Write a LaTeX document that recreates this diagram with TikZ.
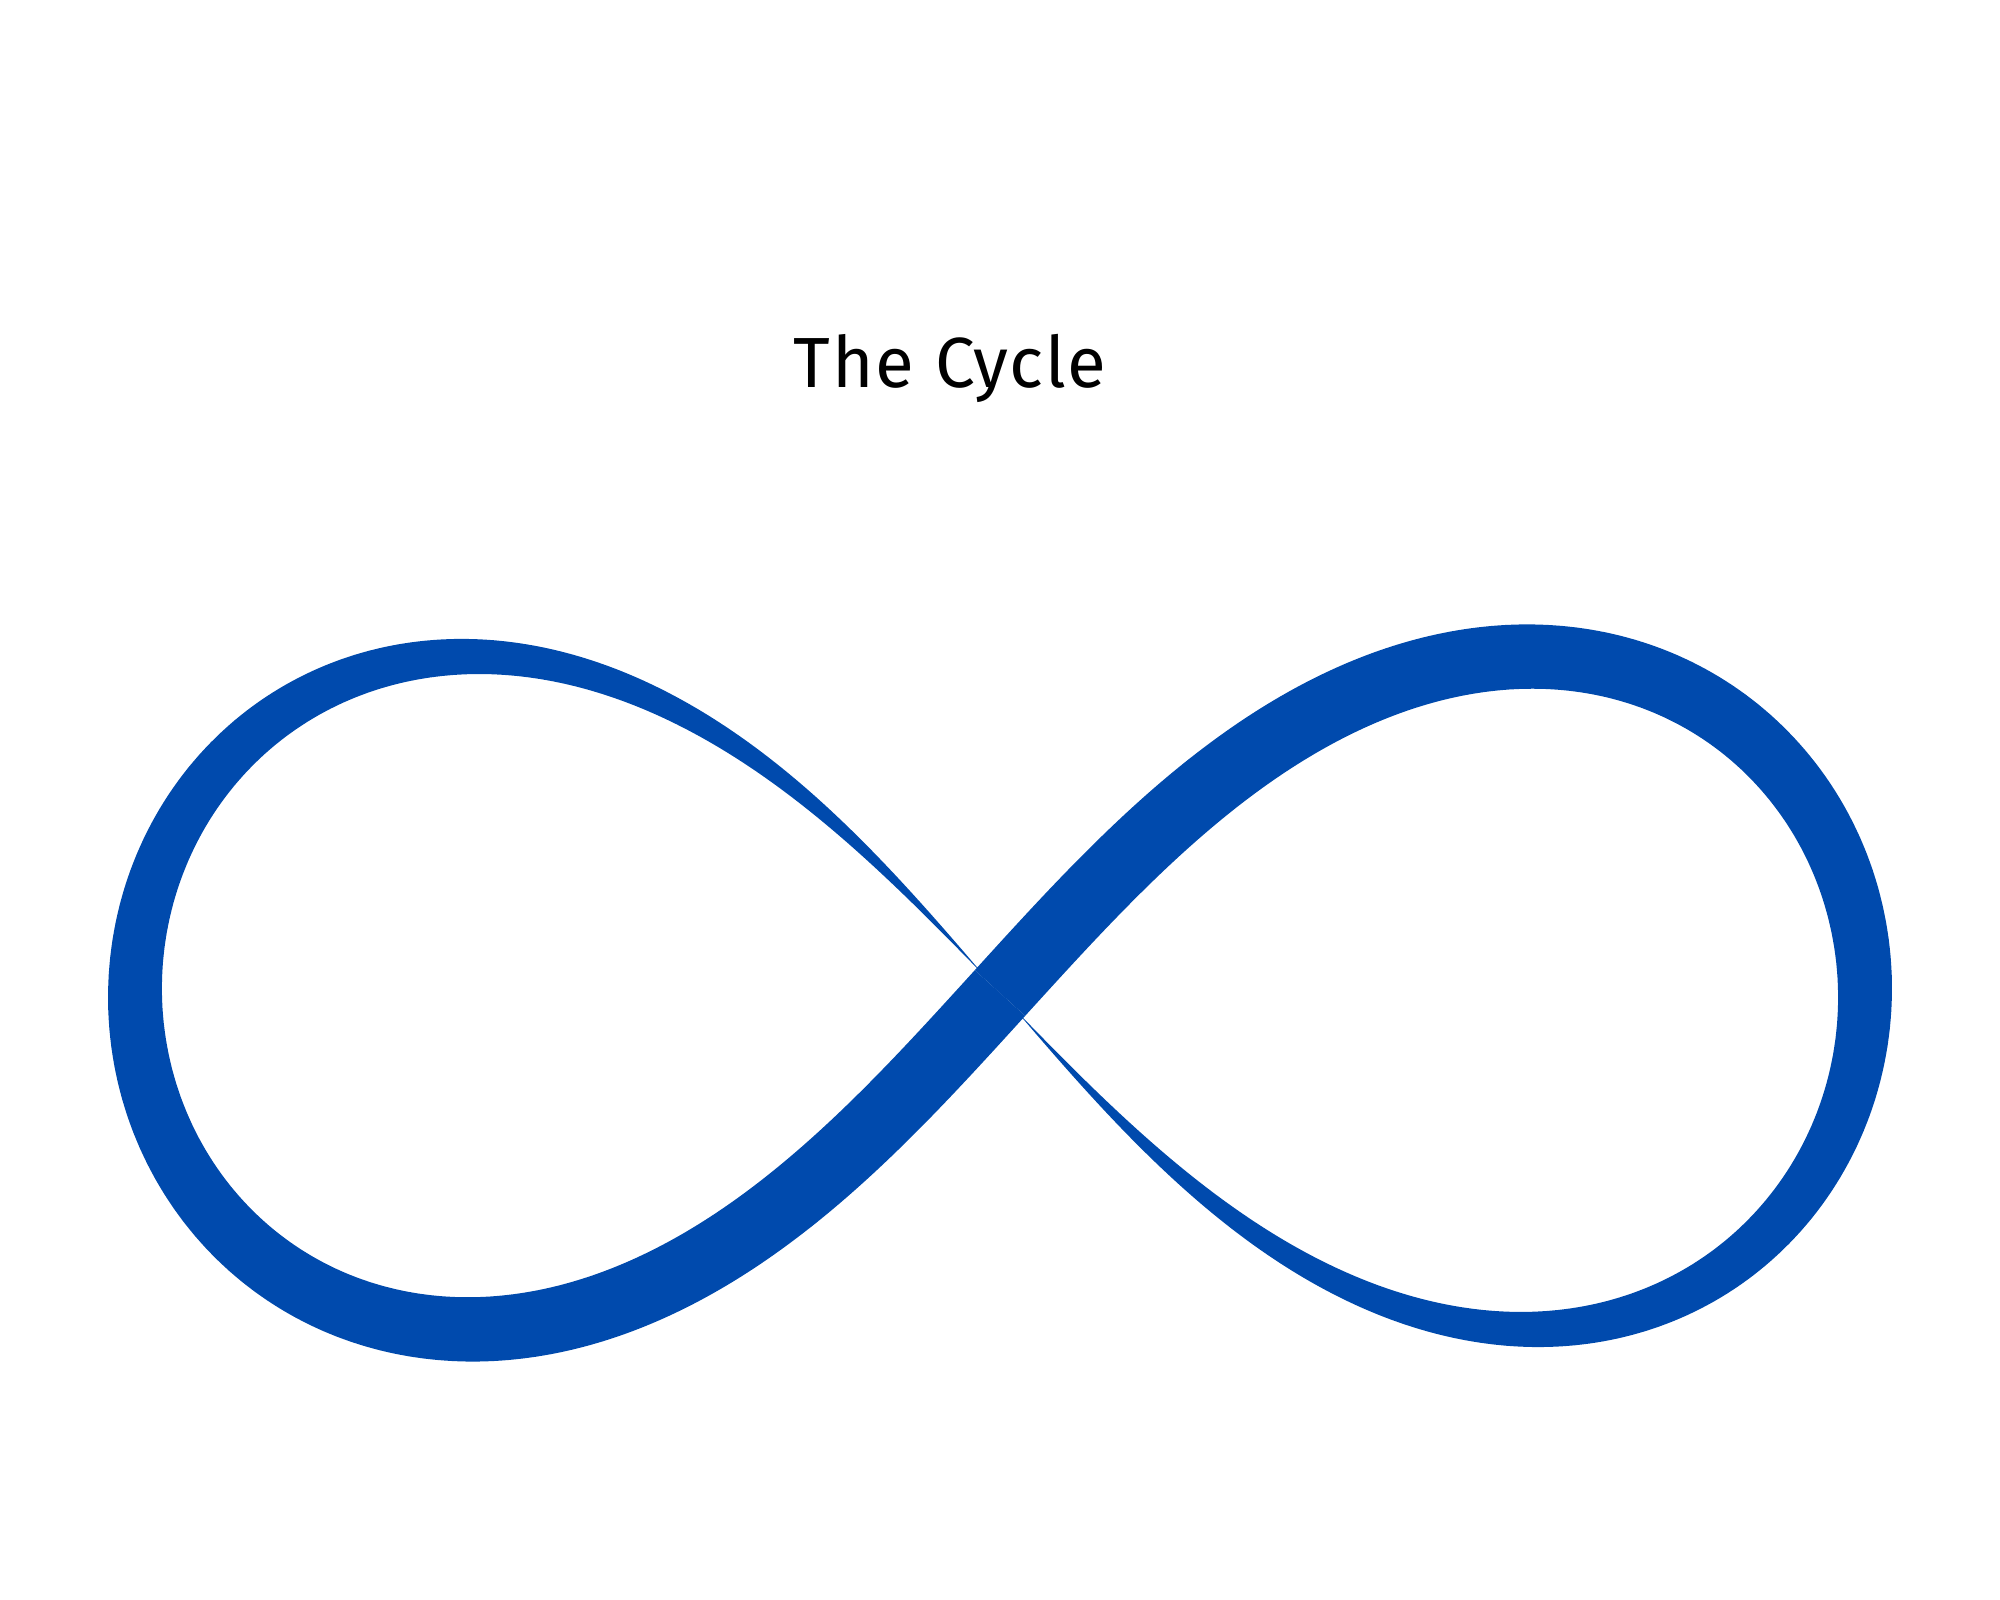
\documentclass[tikz,border=0pt]{standalone}
\usepackage{fontspec}
\setmainfont{Fira Sans}
\newfontfamily\titlefont[LetterSpace=2.5]{Fira Sans}
\definecolor{infblue}{HTML}{004AAD}
\begin{document}
\begin{tikzpicture}[x=1pt,y=1pt,
  declare function={
    ss(\t)=sin(\t)*sin(\t);
    px(\t)=1000+865*cos(\t)/(1+ss(\t));
    py(\t)=607+951.5*sin(\t)*cos(\t)/(1+ss(\t));
    tx(\t)=-sin(\t)*(3-ss(\t));
    ty(\t)=1.1*(1-3*ss(\t));
    tl(\t)=veclen(tx(\t),ty(\t));
    nx(\t)=-ty(\t)/tl(\t);
    ny(\t)=tx(\t)/tl(\t);
    xs(\u)=\u/180-0.02722*sin(2*\u);
    xf(\u)=max((xs(\u)-0.01)/0.99,0);
    hw(\u)=34*(1-max(1-xf(\u),0.0001)^2.3);
  },
  ribbon/.style={fill=infblue},
  titletext/.style={font=\titlefont\fontsize{71}{85}\selectfont, text=black, inner sep=0pt, anchor=base}]
  \fill[white] (0,0) rectangle (2000,1600);
  \useasboundingbox (0,0) rectangle (2000,1600);
  % left lobe
  \path[ribbon] plot[variable=\t,domain=90:270,samples=361]
      ({px(\t)+hw(270-\t)*nx(\t)},{py(\t)+hw(270-\t)*ny(\t)})
    -- plot[variable=\t,domain=270:90,samples=361]
      ({px(\t)-hw(270-\t)*nx(\t)},{py(\t)-hw(270-\t)*ny(\t)}) -- cycle;
  % right lobe
  \path[ribbon] plot[variable=\t,domain=-90:90,samples=361]
      ({px(\t)+hw(\t+90)*nx(\t)},{py(\t)+hw(\t+90)*ny(\t)})
    -- plot[variable=\t,domain=90:-90,samples=361]
      ({px(\t)-hw(\t+90)*nx(\t)},{py(\t)-hw(\t+90)*ny(\t)}) -- cycle;
  \node[titletext] (title) at (950,1212) {The Cycle};
\end{tikzpicture}
\end{document}
